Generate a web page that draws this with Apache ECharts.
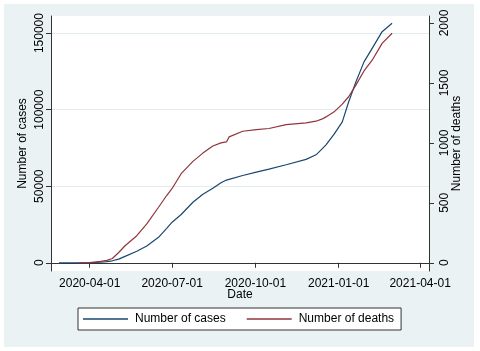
<!DOCTYPE html>
<html>
<head>
<meta charset="utf-8">
<script src="https://cdn.jsdelivr.net/npm/echarts@6/dist/echarts.min.js"></script>
<style>
  html, body { margin: 0; padding: 0; background: #fff; }
  #main { width: 480px; height: 351px; }
</style>
</head>
<body>
<div id="main"></div>
<script>
// dates, with cumulative cases and deaths
var dates = ['2020-02-27', '2020-03-20', '2020-04-01', '2020-04-13', '2020-04-20', '2020-04-26',
	'2020-05-03', '2020-05-10', '2020-05-23', '2020-06-03', '2020-06-16', '2020-06-25',
	'2020-07-01', '2020-07-11', '2020-07-24', '2020-08-04', '2020-08-15', '2020-08-24',
	'2020-08-30', '2020-09-02', '2020-09-17', '2020-10-02', '2020-10-16', '2020-11-04',
	'2020-11-26', '2020-12-07', '2020-12-14', '2020-12-18', '2020-12-27', '2021-01-05',
	'2021-01-12', '2021-01-20', '2021-01-29', '2021-02-07', '2021-02-18', '2021-03-01'];
var cases = [0, 10, 150, 350, 700, 1300,
	2400, 4200, 7500, 11000, 16600, 22500,
	26500, 31500, 39500, 44800, 48600, 52300,
	54000, 54500, 57000, 59200, 61200, 64000,
	67500, 70500, 74500, 77000, 84000, 92000,
	105000, 118000, 131200, 140000, 150900, 156400];
var deaths = [null, 0, 2, 11, 20, 36,
	86, 142, 226, 324, 463, 561,
	620, 743, 846, 915, 974, 1000,
	1008, 1050, 1097, 1111, 1120, 1153,
	1167, 1181, 1200, 1217, 1259, 1323,
	1385, 1482, 1600, 1690, 1830, 1915];

var dateTicks = ['2020-04-01', '2020-07-01', '2020-10-01', '2021-01-01', '2021-04-01'];
var caseTicks = [0, 50000, 100000, 150000];
var deathTicks = [0, 500, 1000, 1500, 2000];

function toTime(s) {
	var p = s.split('-');
	return Date.UTC(+p[0], +p[1] - 1, +p[2]);
}
function fmtDate(v) {
	var d = new Date(v);
	var m = d.getUTCMonth() + 1, day = d.getUTCDate();
	return d.getUTCFullYear() + '-' + (m < 10 ? '0' : '') + m + '-' + (day < 10 ? '0' : '') + day;
}
function plain(v) { return String(v); }

var myChart = echarts.init(document.getElementById('main'));

var font = 'Liberation Sans, Arial, sans-serif';

var option = {
	animation: false,
	textStyle: { fontFamily: font },
	graphic: [{
		type: 'rect',
		z: -10,
		shape: { x: 4, y: 4, width: 470, height: 343 },
		style: { fill: '#eaf2f3' }
	}],
	grid: {
		left: 51,
		right: 51,
		top: 16,
		bottom: 80,
		show: true,
		backgroundColor: '#fff',
		borderWidth: 0
	},
	legend: {
		left: 78,
		top: 308,
		padding: [5, 7, 5, 5],
		itemGap: 21,
		itemWidth: 45,
		itemHeight: 1.4,
		icon: 'rect',
		backgroundColor: '#fff',
		borderColor: '#333',
		borderWidth: 1,
		borderRadius: 0,
		textStyle: { fontSize: 12, color: '#000', fontFamily: font, padding: [0, 0, 0, 2] },
		data: ['Number of cases', 'Number of deaths']
	},
	xAxis: {
		type: 'value',
		min: Date.UTC(2020, 1, 18, 5),
		max: Date.UTC(2021, 3, 10, 19),
		name: 'Date',
		nameLocation: 'middle',
		nameGap: 18,
		nameMoveOverlap: false,
		nameTextStyle: { fontSize: 12, color: '#000' },
		axisLine: { lineStyle: { color: '#333', width: 1 } },
		axisTick: {
			length: 5,
			lineStyle: { color: '#333' },
			customValues: dateTicks.map(toTime)
		},
		axisLabel: {
			fontSize: 12,
			color: '#000',
			margin: 7,
			customValues: dateTicks.map(toTime),
			formatter: fmtDate
		},
		splitLine: { show: false }
	},
	yAxis: [{
		type: 'value',
		position: 'left',
		min: -5370,
		max: 161140,
		name: 'Number of cases',
		nameLocation: 'middle',
		nameGap: 22,
		nameMoveOverlap: false,
		nameTextStyle: { fontSize: 12, color: '#000' },
		axisLine: { show: true, lineStyle: { color: '#333', width: 1 } },
		axisTick: {
			show: true,
			length: 5,
			lineStyle: { color: '#333' },
			customValues: caseTicks
		},
		axisLabel: {
			rotate: 90,
			fontSize: 12,
			color: '#000',
			margin: 5,
			customValues: caseTicks,
			formatter: plain
		},
		splitLine: { show: true, lineStyle: { color: '#e3eced', width: 1 } }
	}, {
		type: 'value',
		position: 'right',
		min: -68.6,
		max: 2058.6,
		name: 'Number of deaths',
		nameLocation: 'middle',
		nameGap: 22,
		nameMoveOverlap: false,
		nameTextStyle: { fontSize: 12, color: '#000' },
		axisLine: { show: true, lineStyle: { color: '#333', width: 1 } },
		axisTick: {
			show: true,
			length: 5,
			lineStyle: { color: '#333' },
			customValues: deathTicks
		},
		axisLabel: {
			rotate: 90,
			fontSize: 12,
			color: '#000',
			margin: 10,
			customValues: deathTicks,
			formatter: plain
		},
		splitLine: { show: false }
	}],
	series: [{
		name: 'Number of cases',
		type: 'line',
		yAxisIndex: 0,
		symbol: 'none',
		color: '#1a476f',
		lineStyle: { width: 1.2, color: '#1a476f' },
		data: dates.map(function (d, i) { return [toTime(d), cases[i]]; })
	}, {
		name: 'Number of deaths',
		type: 'line',
		yAxisIndex: 1,
		symbol: 'none',
		color: '#90353b',
		lineStyle: { width: 1.2, color: '#90353b' },
		data: dates.map(function (d, i) { return [toTime(d), deaths[i]]; })
	}]
};

myChart.setOption(option);
</script>
</body>
</html>
